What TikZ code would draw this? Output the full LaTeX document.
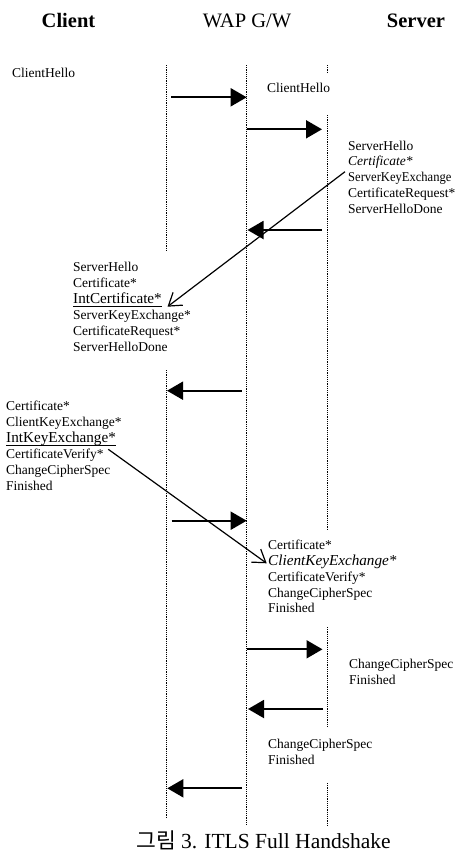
\documentclass[tikz,border=0pt]{standalone}
\usepackage{fontspec}
\usepackage{graphicx}
\setmainfont{Liberation Serif}
\newfontfamily\krfont{Noto Sans CJK KR}
\usetikzlibrary{arrows.meta}
\newcommand\ulx[1]{\setbox0\hbox{#1}\rlap{\rule[-3.6pt]{\wd0}{1.2pt}}\box0}
\newcommand\msgfont{\fontsize{13.5}{15.9}\selectfont}
\newcommand\bigmsg{\fontsize{15.2}{15.9}\selectfont}
\begin{document}
\begin{tikzpicture}[x=1pt,y=-1pt,
  life/.style={line width=0.9pt, dash pattern=on 1.1pt off 1.1pt},
  msg/.style={line width=1.9pt, -{Triangle[length=16pt,width=18pt]}},
  diag/.style={line width=1.2pt, -{Straight Barb[length=12pt,width=16pt]}},
  lbl/.style={inner sep=0pt, anchor=base west, font=\msgfont},
  head/.style={inner sep=0pt, anchor=base, font=\fontsize{20.5}{24}\selectfont}]
\useasboundingbox (0,0) rectangle (455,852);
% headers
\node[head] (hc) at (68.5,27) {\textbf{Client}};
\node[head] (hg) at (247,27) {WAP G/W};
\node[head] (hs) at (416,27) {\textbf{Server}};
% lifelines
\coordinate (c0) at (166.7,65);  \coordinate (c1) at (166.7,250);
\coordinate (c2) at (166.7,370); \coordinate (c3) at (166.7,817);
\coordinate (g0) at (246.7,65);  \coordinate (g1) at (246.7,825);
\coordinate (s0) at (327.5,65);  \coordinate (s1) at (327.5,72);
\coordinate (s2) at (327.5,115); \coordinate (s3) at (327.5,530);
\coordinate (s4) at (327.5,627); \coordinate (s5) at (327.5,727);
\coordinate (s6) at (327.5,783); \coordinate (s7) at (327.5,825);
\draw[life] (c0) -- (c1); \draw[life] (c2) -- (c3);
\draw[life] (g0) -- (g1);
\draw[life] (s0) -- (s1); \draw[life] (s2) -- (s3);
\draw[life] (s4) -- (s5); \draw[life] (s6) -- (s7);
% message arrows
\coordinate (m1a) at (171,97.3);   \coordinate (m1b) at (246.7,97.3);
\coordinate (m2a) at (247,129.3);  \coordinate (m2b) at (322,129.3);
\coordinate (m3a) at (322,230);    \coordinate (m3b) at (247.5,230);
\coordinate (m4a) at (241.7,390.7);\coordinate (m4b) at (167,390.7);
\coordinate (m5a) at (171.7,520.7);\coordinate (m5b) at (246.7,520.7);
\coordinate (m6a) at (247,649.3);  \coordinate (m6b) at (322.5,649.3);
\coordinate (m7a) at (323.3,709);  \coordinate (m7b) at (248,709);
\coordinate (m8a) at (241.7,788.3);\coordinate (m8b) at (167.3,788.3);
\draw[msg] (m1a) -- (m1b);
\draw[msg] (m2a) -- (m2b);
\draw[msg] (m3a) -- (m3b);
\draw[msg] (m4a) -- (m4b);
\draw[msg] (m5a) -- (m5b);
\draw[msg] (m6a) -- (m6b);
\draw[msg] (m7a) -- (m7b);
\draw[msg] (m8a) -- (m8b);
% texts
\node[lbl] (t1) at (12,77.3) {ClientHello};
\node[lbl] (t2) at (267,92.7) {ClientHello};
\node[lbl] (t3) at (348,150) {\begin{tabular}[t]{@{}l@{}}ServerHello\\ \textit{Certificate*}\\ \scalebox{0.93}[1]{ServerKeyExchange}\\ CertificateRequest*\\ ServerHelloDone\end{tabular}};
\node[lbl] (t4) at (73,271.7) {\begin{tabular}[t]{@{}l@{}}ServerHello\\ Certificate*\\ {\bigmsg\ulx{IntCertificate*}}\\ ServerKeyExchange*\\ CertificateRequest*\\ ServerHelloDone\end{tabular}};
\node[lbl] (t5) at (6,410.7) {\begin{tabular}[t]{@{}l@{}}Certificate*\\ ClientKeyExchange*\\ {\bigmsg\ulx{IntKeyExchange*}}\\ CertificateVerify*\\ ChangeCipherSpec\\ Finished\end{tabular}};
\node[lbl] (t6) at (268,549.3) {\begin{tabular}[t]{@{}l@{}}Certificate*\\ {\bigmsg\textit{ClientKeyExchange*}}\\ CertificateVerify*\\ ChangeCipherSpec\\ Finished\end{tabular}};
\node[lbl] (t7) at (349,668.5) {\begin{tabular}[t]{@{}l@{}}ChangeCipherSpec\\ Finished\end{tabular}};
\node[lbl] (t8) at (268,748.3) {\begin{tabular}[t]{@{}l@{}}ChangeCipherSpec\\ Finished\end{tabular}};
% diagonal arrows
\coordinate (d1a) at (345,171.7);  \coordinate (d1b) at (167.5,306.7);
\coordinate (d2a) at (108.3,449.3); \coordinate (d2b) at (266.7,563.3);
\draw[diag] (d1a) -- (d1b);
\draw[diag] (d2a) -- (d2b);
% caption
\node[inner sep=0pt, anchor=base, font=\fontsize{21.5}{24}\selectfont] (cap) at (263.5,848) {{\krfont 그림} 3. ITLS Full Handshake};
\end{tikzpicture}
\end{document}
